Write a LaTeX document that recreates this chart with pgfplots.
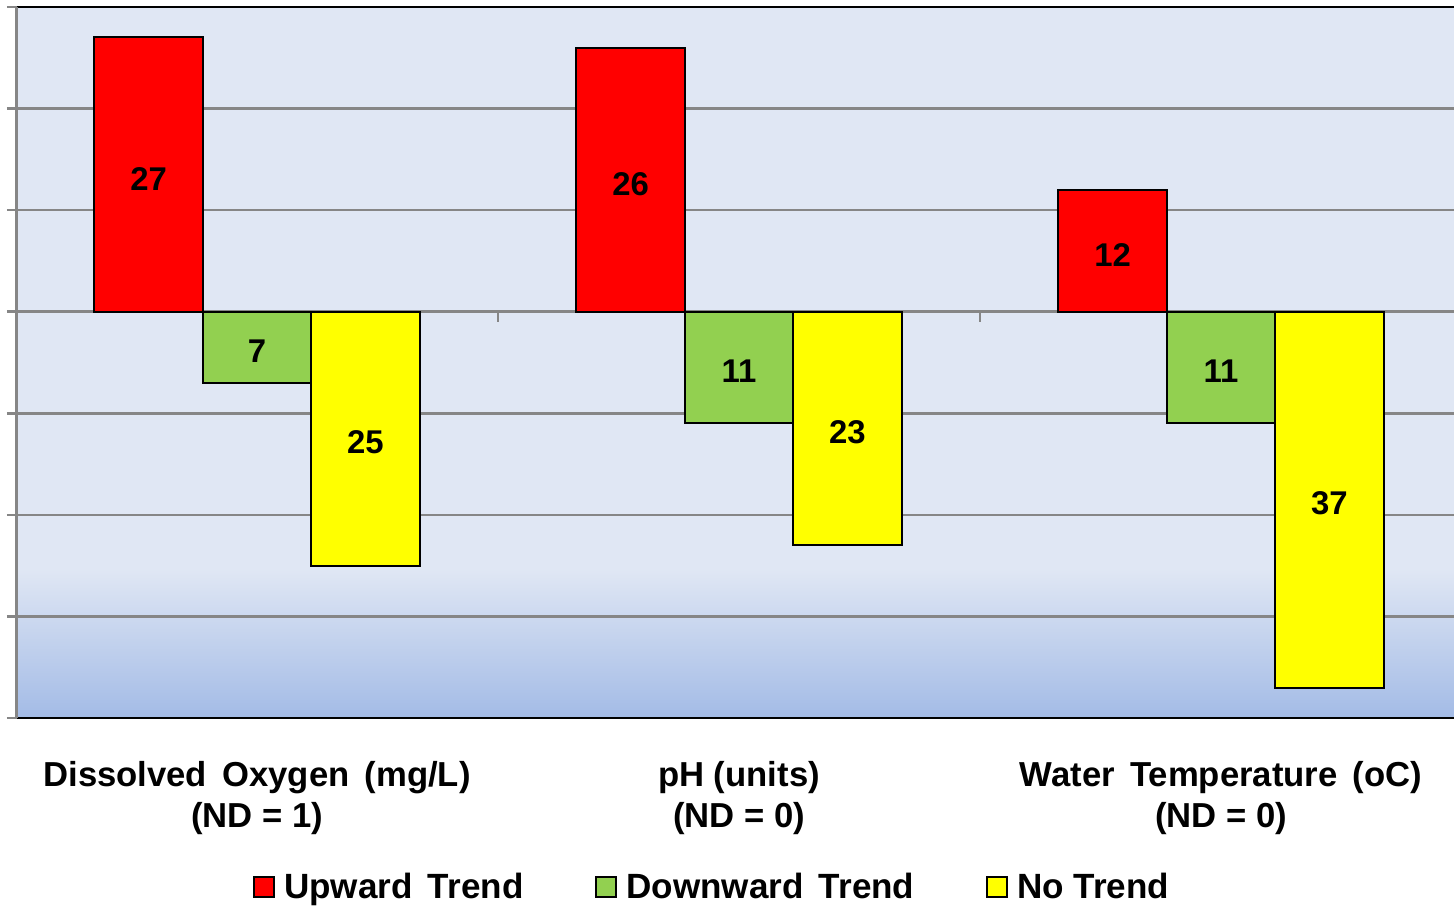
\documentclass[border=0pt]{standalone}
\usepackage{pgfplots}
\pgfplotsset{compat=1.18}
\usepackage{pgfplotstable}
\usepackage{fontspec}
\setmainfont{Liberation Sans}
\definecolor{upred}{RGB}{255,0,0}
\definecolor{dngreen}{RGB}{146,208,80}
\definecolor{noyellow}{RGB}{255,255,0}
\definecolor{bgtop}{RGB}{224,231,244}
\definecolor{bgbot}{RGB}{163,187,230}
\definecolor{gridgray}{RGB}{134,134,134}
\pgfdeclareverticalshading{bgsh}{100bp}{color(0bp)=(bgbot); color(25bp)=(bgbot); color(35.5bp)=(bgtop); color(100bp)=(bgtop)}

\pgfplotstableread{
x y lab
0 27 27
1 26 26
2 12 12
}\tabUp
\pgfplotstableread{
x y lab
0 -7 7
1 -11 11
2 -11 11
}\tabDown
\pgfplotstableread{
x y lab
0 -25 25
1 -23 23
2 -37 37
}\tabNo

\newcommand{\lblfont}{\fontsize{17.4}{20.5}\selectfont\bfseries}
\newcommand{\legfont}{\fontsize{17.6}{20.5}\selectfont\bfseries}
\newcommand{\barfont}{\fontsize{16.5}{19}\selectfont\bfseries}
\newcommand{\wide}{\spaceskip=7.6bp\relax}

\pgfplotsset{sqlegend/.style={legend image code/.code={\draw[##1, draw=black, line width=0.9bp] (0bp,-5bp) rectangle (10bp,5bp); \path (12.5bp,0bp);}}}

\begin{document}
\begin{tikzpicture}
\useasboundingbox (-8.5bp,-94.5bp) rectangle (718.5bp,359bp);
\begin{axis}[
  scale only axis,
  width=718.5bp, height=355.5bp,
  at={(0,0)}, anchor=south west,
  xmin=-0.4979, xmax=2.4834,
  ymin=-40, ymax=30,
  ybar=0pt, bar width=0.225,
  clip=false,
  axis background/.style={shade, shading=bgsh},
  axis line style={draw=none},
  ytick={-40,-30,...,30},
  yticklabels={},
  ymajorgrids,
  major grid style={draw=gridgray, line width=1.3bp},
  ytick style={draw=gridgray, line width=1.3bp},
  tick align=outside,
  major tick length=5bp,
  xtick={0,1,2},
  x tick style={draw=none},
  xticklabels={{{\wide Dissolved Oxygen (mg/L)}\\(ND = 1)}, {pH (units)\\(ND = 0)}, {{\wide Water Temperature (oC)}\\(ND = 0)}},
  xticklabel style={align=center, font=\lblfont, anchor=north, yshift=-13bp},
  nodes near coords,
  point meta=explicit symbolic,
  visualization depends on={\thisrow{y} \as \rawy},
  every node near coord/.append style={anchor=center, font=\barfont, yshift={-2.5393bp*\rawy-2bp}},
  legend columns=-1,
  legend style={at={(0.4845,-0.2377)}, anchor=center, draw=none, fill=none, font=\legfont,
    /tikz/every even column/.append style={column sep=34bp}},
]
\addplot[fill=upred, draw=black, line width=1bp, sqlegend] table[x=x,y=y,meta=lab] {\tabUp};
\addlegendentry{\wide Upward Trend}
\addplot[fill=dngreen, draw=black, line width=1bp, sqlegend] table[x=x,y=y,meta=lab] {\tabDown};
\addlegendentry{\wide Downward Trend}
\addplot[fill=noyellow, draw=black, line width=1bp, sqlegend] table[x=x,y=y,meta=lab] {\tabNo};
\addlegendentry{No Trend}
\draw[gridgray, line width=1.3bp] (axis cs:0.5,0) -- ++(0pt,-5bp);
\draw[gridgray, line width=1.3bp] (axis cs:1.5,0) -- ++(0pt,-5bp);
\draw[black, line width=1.4bp] (rel axis cs:0,1) -- (rel axis cs:1,1);
\draw[black, line width=1.4bp] (rel axis cs:0,0) -- (rel axis cs:1,0);
\draw[gridgray, line width=1.5bp] (rel axis cs:0,0) -- (rel axis cs:0,1);
\end{axis}
\end{tikzpicture}
\end{document}
